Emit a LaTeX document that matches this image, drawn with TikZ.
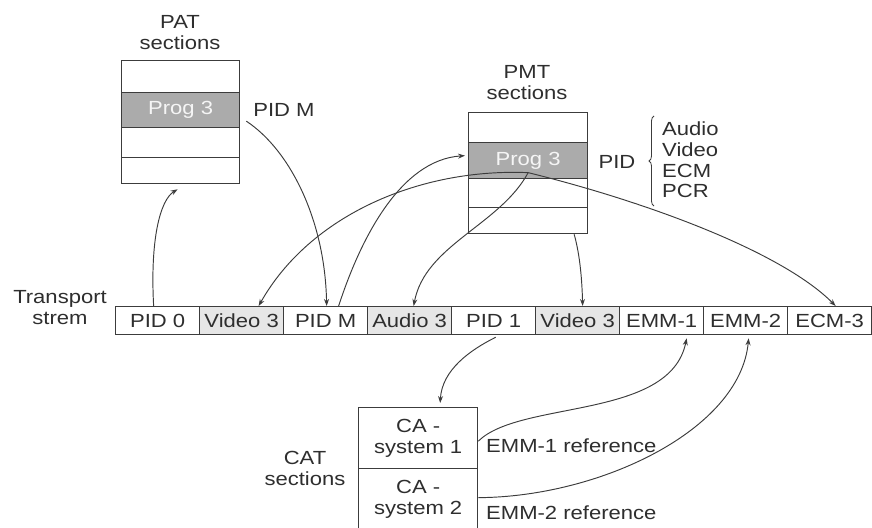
\documentclass[tikz,border=0pt]{standalone}
\usepackage{fontspec}
\setmainfont{Liberation Sans}[FakeStretch=1.16]
\usetikzlibrary{arrows.meta,decorations.pathreplacing}
\definecolor{ink}{HTML}{2E2E2E}
\definecolor{linec}{HTML}{3C3C3C}
\definecolor{rowgray}{HTML}{ABABAB}
\definecolor{cellgray}{HTML}{E6E6E6}
\begin{document}
\begin{tikzpicture}[x=1pt,y=-1pt,
  font=\fontsize{19}{21}\selectfont, text=ink,
  cell/.style={draw=linec, line width=1.3pt, rectangle, inner sep=0pt, anchor=north west},
  lbl/.style={align=center, inner sep=0pt},
  conn/.style={draw=linec, line width=0.95pt, -{Stealth[length=7pt,width=5pt]}}]
\useasboundingbox (0,0) rectangle (872,527);
\clip (0,0) rectangle (872,527);

% PAT sections
\node[lbl] (patlbl) at (180,33) {PAT\\sections};
\node[cell, minimum width=118pt, minimum height=32pt] (pat1) at (121,60) {};
\node[cell, fill=rowgray, text=white!92!gray, minimum width=118pt, minimum height=35pt] (pat2) at (121,92) {Prog 3};
\node[cell, minimum width=118pt, minimum height=30pt] (pat3) at (121,127) {};
\node[cell, minimum width=118pt, minimum height=26pt] (pat4) at (121,157) {};
\node[lbl] (pidm) at (284,110) {PID M};

% PMT sections
\node[lbl] (pmtlbl) at (527,83) {PMT\\sections};
\node[cell, minimum width=119pt, minimum height=30pt] (pmt1) at (468,112) {};
\node[cell, fill=rowgray, text=white!92!gray, minimum width=119pt, minimum height=36pt] (pmt2) at (468,142) {Prog 3};
\node[cell, minimum width=119pt, minimum height=29pt] (pmt3) at (468,178) {};
\node[cell, minimum width=119pt, minimum height=26pt] (pmt4) at (468,207) {};
\node[lbl] (pid) at (617,162) {PID};
\node[align=left, anchor=west, inner sep=0pt, font=\fontsize{19}{20.6}\selectfont] (pidlist) at (662,160) {Audio\\Video\\ECM\\PCR};
\draw[linec, line width=0.8pt, decorate, decoration={brace, amplitude=5pt}]
  ([xshift=-8pt,yshift=-8pt]pidlist.south west) -- ([xshift=-8pt,yshift=6pt]pidlist.north west);

% Transport stream
\node[lbl] (tslbl) at (60,308) {Transport\\strem};
\foreach \t/\f [count=\i] in {PID 0/white, Video 3/cellgray, PID M/white, Audio 3/cellgray, PID 1/white, Video 3/cellgray, EMM-1/white, EMM-2/white, ECM-3/white}
  \node[cell, fill=\f, minimum width=84pt, minimum height=28pt] (ts\i) at ({115+84*(\i-1)},306) {\t};

% CAT sections
\node[lbl] (catlbl) at (305,468) {CAT\\sections};
\node[cell, lbl, anchor=north west, minimum width=119pt, minimum height=61pt] (cat1) at (358,407) {CA -\\system 1};
\node[cell, lbl, anchor=north west, minimum width=119pt, minimum height=62pt] (cat2) at (358,468) {CA -\\system 2};
\node[anchor=west, inner sep=0pt] (emm1ref) at (486,446) {EMM-1 reference};
\node[anchor=west, inner sep=0pt] (emm2ref) at (486,513) {EMM-2 reference};

% connectors
\coordinate (hub) at ([yshift=-12pt]pmt2.center);
\draw[conn] ([xshift=-4pt]ts1.north) .. controls (150,240) and (160,200) .. ([xshift=-3pt,yshift=-5pt]pat4.south);
\draw[conn] ([xshift=6pt,yshift=-11pt]pat2.east) .. controls (290,150) and (325,220) .. ([xshift=1pt]ts3.north);
\draw[conn] ([xshift=13pt]ts3.north) .. controls (360,240) and (400,160) .. ([xshift=-3pt,yshift=5pt]pmt2.west);
\draw[conn] (hub) .. controls (420,168) and (310,215) .. ([xshift=17pt]ts2.north);
\draw[conn] (hub) .. controls (640,200) and (780,250) .. ([xshift=6pt]ts9.north);
\draw[conn] (hub) .. controls (500,225) and (425,245) .. ([xshift=4pt]ts4.north);
\draw[conn] ([xshift=46pt]pmt4.south) .. controls (580,255) and (582,280) .. ([xshift=5pt]ts6.north);
\draw[conn] ([xshift=2pt,yshift=-2pt]ts5.south) .. controls (470,350) and (442,370) .. ([xshift=22pt,yshift=4pt]cat1.north);
\draw[conn] ([yshift=-3pt]cat1.east) .. controls (520,400) and (670,420) .. ([xshift=25pt,yshift=-3pt]ts7.south);
\draw[conn] ([yshift=2pt]cat2.east) .. controls (600,497) and (740,430) .. ([xshift=3pt,yshift=-3pt]ts8.south);
\end{tikzpicture}
\end{document}
